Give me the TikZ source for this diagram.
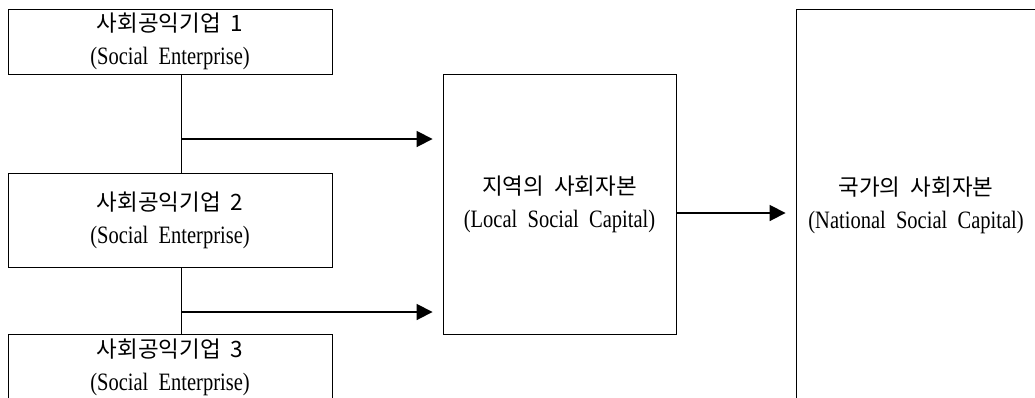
\documentclass[tikz,border=0pt]{standalone}
\usepackage{fontspec}
\setmainfont[FakeStretch=0.82,WordSpace=2]{Liberation Serif}
\newfontfamily\krfont[WordSpace=2]{Noto Sans CJK KR}
\usetikzlibrary{arrows.meta}
\newcommand\kor[1]{{\krfont\fontsize{22.5}{33}\selectfont #1}}
\begin{document}
\begin{tikzpicture}[x=1pt,y=-1pt,
  box/.style={draw=black,line width=0.9pt,inner sep=0pt,align=center,font=\fontsize{25}{33}\selectfont},
  lbl/.style={inner sep=0pt,align=center,font=\fontsize{25}{33}\selectfont},
  arr/.style={line width=1.8pt,-{Triangle[length=16pt,width=16pt]},shorten >=10pt},
  link/.style={line width=0.9pt}]
\useasboundingbox (0,0) rectangle (1035,397);
\clip (0,0) rectangle (1035,397);
\node[box,minimum width=324pt,minimum height=65pt] (se1) at (170,41.5) {\kor{사회공익기업 1}\\(Social Enterprise)};
\node[box,minimum width=324pt,minimum height=94pt] (se2) at (170,220) {\kor{사회공익기업 2}\\(Social Enterprise)};
\node[box,minimum width=324pt,minimum height=66pt] (se3) at (170,367) {\kor{사회공익기업 3}\\(Social Enterprise)};
\node[box,minimum width=233pt,minimum height=260pt] (local) at (559.5,204) {\kor{지역의 사회자본}\\(Local Social Capital)};
\node[box,minimum width=300pt,minimum height=400pt] (nat) at (946,209) {};
\node[lbl] (nattext) at (916,205) {\kor{국가의 사회자본}\\(National Social Capital)};
\coordinate (j1) at (181,139);
\coordinate (j2) at (181,312);
\coordinate (j3) at ([yshift=-9pt]local.east);
\draw[link] ([xshift=11pt]se1.south) -- ([xshift=11pt]se2.north);
\draw[link] ([xshift=11pt]se2.south) -- ([xshift=11pt]se3.north);
\draw[arr] (j1) -- (j1 -| local.west);
\draw[arr] (j2) -- (j2 -| local.west);
\draw[arr] (j3) -- (j3 -| nat.west);
\end{tikzpicture}
\end{document}
